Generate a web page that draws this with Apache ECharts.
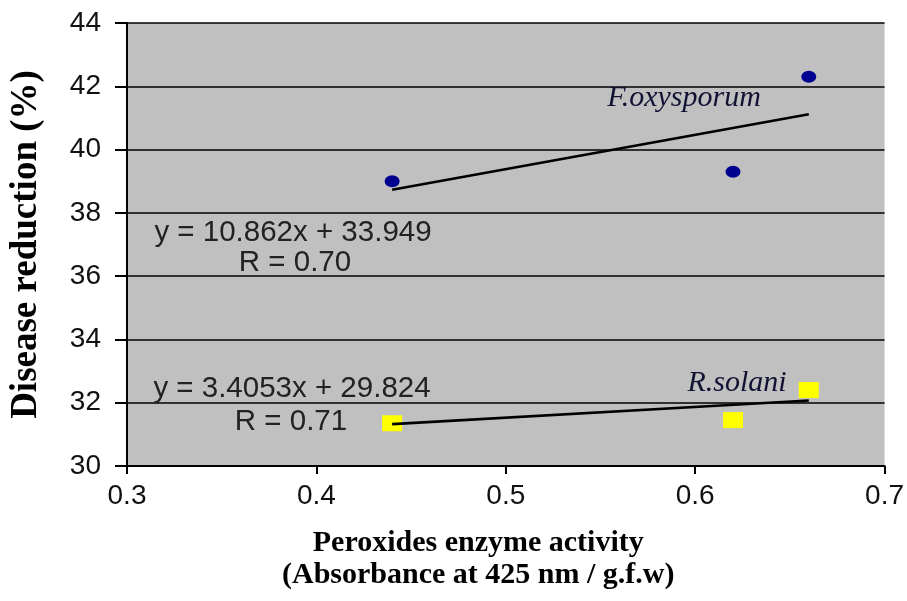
<!DOCTYPE html>
<html>
<head>
<meta charset="utf-8">
<script src="https://cdn.jsdelivr.net/npm/echarts@6/dist/echarts.min.js"></script>
<style>html,body{margin:0;padding:0;background:#fff}#c{width:907px;height:601px}</style>
</head>
<body>
<div id="c"></div>
<script>
// Data
var foxX = [0.44, 0.62, 0.66];
var foxY = [39.0, 39.3, 42.3];
var rsolX = [0.44, 0.62, 0.66];
var rsolY = [31.35, 31.45, 32.4];
var foxFit = {slope: 10.862, intercept: 33.949};
var rsolFit = {slope: 3.4053, intercept: 29.824};
var xTicks = [0.3, 0.4, 0.5, 0.6, 0.7];
var yTicks = [30, 32, 34, 36, 38, 40, 42, 44];
var foxEq = ['y = 10.862x + 33.949', 'R = 0.70'];
var rsolEq = ['y = 3.4053x + 29.824', 'R = 0.71'];

function pairs(xs, ys){ return xs.map(function(x,i){return [x, ys[i]];}); }
function fitLine(xs, fit){
  var lo = Math.min.apply(null, xs), hi = Math.max.apply(null, xs);
  return [[lo, fit.slope*lo+fit.intercept],[hi, fit.slope*hi+fit.intercept]];
}

var chart = echarts.init(document.getElementById('c'), null, {renderer:'canvas'});
var sansFont = '"Liberation Sans", Arial, sans-serif';
var serifFont = '"Liberation Serif", "Times New Roman", serif';

chart.setOption({
  animation: false,
  backgroundColor: '#ffffff',
  grid: {left: 124, right: 22, top: 23, bottom: 135, show: true, backgroundColor: '#C0C0C0', borderWidth: 0},
  xAxis: {
    type: 'value', min: xTicks[0], max: xTicks[xTicks.length-1], interval: 0.1,
    axisLine: {show: true, onZero: false, lineStyle: {color: '#000', width: 2}},
    axisTick: {show: true, length: 8, lineStyle: {color: '#000', width: 2}},
    splitLine: {show: false},
    axisLabel: {color: '#111', fontFamily: sansFont, fontSize: 28, margin: 16,
      formatter: function(v){ return v.toFixed(1); }},
    name: 'Peroxides enzyme activity\n(Absorbance at 425 nm / g.f.w)',
    nameLocation: 'middle', nameGap: 61,
    nameTextStyle: {color: '#000', fontFamily: serifFont, fontWeight: 'bold', fontSize: 30, lineHeight: 32, padding: [0, 55, 0, 0]}
  },
  yAxis: {
    type: 'value', min: yTicks[0], max: yTicks[yTicks.length-1], interval: 2,
    axisLine: {show: true, onZero: false, lineStyle: {color: '#000', width: 2}},
    axisTick: {show: true, length: 12, lineStyle: {color: '#000', width: 2}},
    splitLine: {show: true, lineStyle: {color: '#000', width: 1.6}},
    axisLabel: {color: '#111', fontFamily: sansFont, fontSize: 28, margin: 26},
    name: 'Disease reduction (%)',
    nameLocation: 'middle', nameGap: 82,
    nameTextStyle: {color: '#000', fontFamily: serifFont, fontWeight: 'bold', fontSize: 37}
  },
  series: [
    {type: 'line', data: fitLine(foxX, foxFit), showSymbol: false, symbol: 'none',
      lineStyle: {color: '#000', width: 2.6}, z: 3},
    {type: 'line', data: fitLine(rsolX, rsolFit), showSymbol: false, symbol: 'none',
      lineStyle: {color: '#000', width: 2.6}, z: 3},
    {type: 'scatter', name: 'F.oxysporum', data: pairs(foxX, foxY), symbol: 'circle', symbolSize: [15, 12],
      itemStyle: {color: '#000090', opacity: 1}, z: 4},
    {type: 'scatter', name: 'R.solani', data: pairs(rsolX, rsolY), symbol: 'rect', symbolSize: [20, 16],
      itemStyle: {color: '#FFFF00', opacity: 1}, z: 2}
  ],
  graphic: [
    {type: 'text', x: 293, y: 233, z: 10, style: {text: foxEq[0], font: '29.5px ' + sansFont, fill: '#222', textAlign: 'center', textVerticalAlign: 'middle'}},
    {type: 'text', x: 295, y: 263, z: 10, style: {text: foxEq[1], font: '29.5px ' + sansFont, fill: '#222', textAlign: 'center', textVerticalAlign: 'middle'}},
    {type: 'text', x: 292, y: 389, z: 10, style: {text: rsolEq[0], font: '29.5px ' + sansFont, fill: '#222', textAlign: 'center', textVerticalAlign: 'middle'}},
    {type: 'text', x: 291, y: 422, z: 10, style: {text: rsolEq[1], font: '29.5px ' + sansFont, fill: '#222', textAlign: 'center', textVerticalAlign: 'middle'}},
    {type: 'text', x: 684, y: 98, z: 10, style: {text: 'F.oxysporum', font: 'italic 30px ' + serifFont, fill: '#111133', textAlign: 'center', textVerticalAlign: 'middle'}},
    {type: 'text', x: 737, y: 383, z: 10, style: {text: 'R.solani', font: 'italic 30px ' + serifFont, fill: '#111133', textAlign: 'center', textVerticalAlign: 'middle'}}
  ]
});
</script>
</body>
</html>
